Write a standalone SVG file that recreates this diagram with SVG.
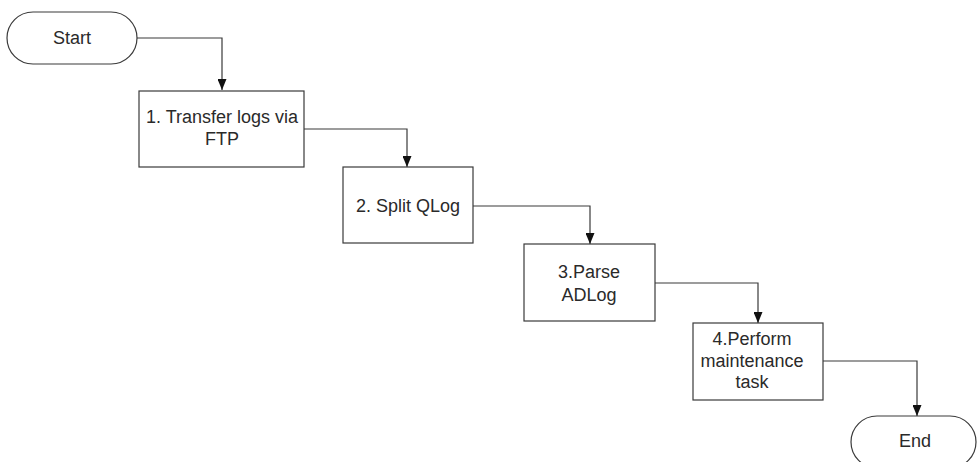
<svg xmlns="http://www.w3.org/2000/svg" width="978" height="462" viewBox="0 0 978 462">
<style>
.shape{fill:#ffffff;stroke:#3a3a3a;stroke-width:1.2}
.conn{fill:none;stroke:#3a3a3a;stroke-width:1.2;marker-end:url(#arr)}
text{font-family:"Liberation Sans",Arial,sans-serif;font-size:18px;fill:#2a2a2a;text-anchor:middle}
</style>
<defs>
<marker id="arr" viewBox="0 0 11 9" refX="11" refY="4.5" markerWidth="11" markerHeight="9" markerUnits="userSpaceOnUse" orient="auto">
<path d="M0,0 L11,4.5 L0,9 Z" fill="#111"/>
</marker>
</defs>
<rect width="978" height="462" fill="#ffffff"/>
<g id="connectors">
<path class="conn" d="M137,38 H222 V90"/>
<path class="conn" d="M304,129 H407 V167"/>
<path class="conn" d="M473,206 H590 V244"/>
<path class="conn" d="M655,283 H758 V323"/>
<path class="conn" d="M823,361 H917 V416"/>
</g>
<g id="start">
<rect class="shape" x="7" y="12" width="130" height="52" rx="26" ry="26"/>
<text x="72" y="44">Start</text>
</g>
<g id="step1">
<rect class="shape" x="139" y="91" width="165" height="76"/>
<text x="222" y="123">1. Transfer logs via</text>
<text x="222" y="145">FTP</text>
</g>
<g id="step2">
<rect class="shape" x="343" y="167" width="130" height="76"/>
<text x="408" y="212">2. Split QLog</text>
</g>
<g id="step3">
<rect class="shape" x="524" y="244" width="131" height="77"/>
<text x="589" y="278">3.Parse</text>
<text x="589" y="301">ADLog</text>
</g>
<g id="step4">
<rect class="shape" x="693" y="323" width="130" height="77"/>
<text x="752" y="345">4.Perform</text>
<text x="752" y="367">maintenance</text>
<text x="752" y="388">task</text>
</g>
<g id="end">
<rect class="shape" x="851" y="416" width="125" height="52" rx="26" ry="26"/>
<text x="915" y="447">End</text>
</g>
</svg>
